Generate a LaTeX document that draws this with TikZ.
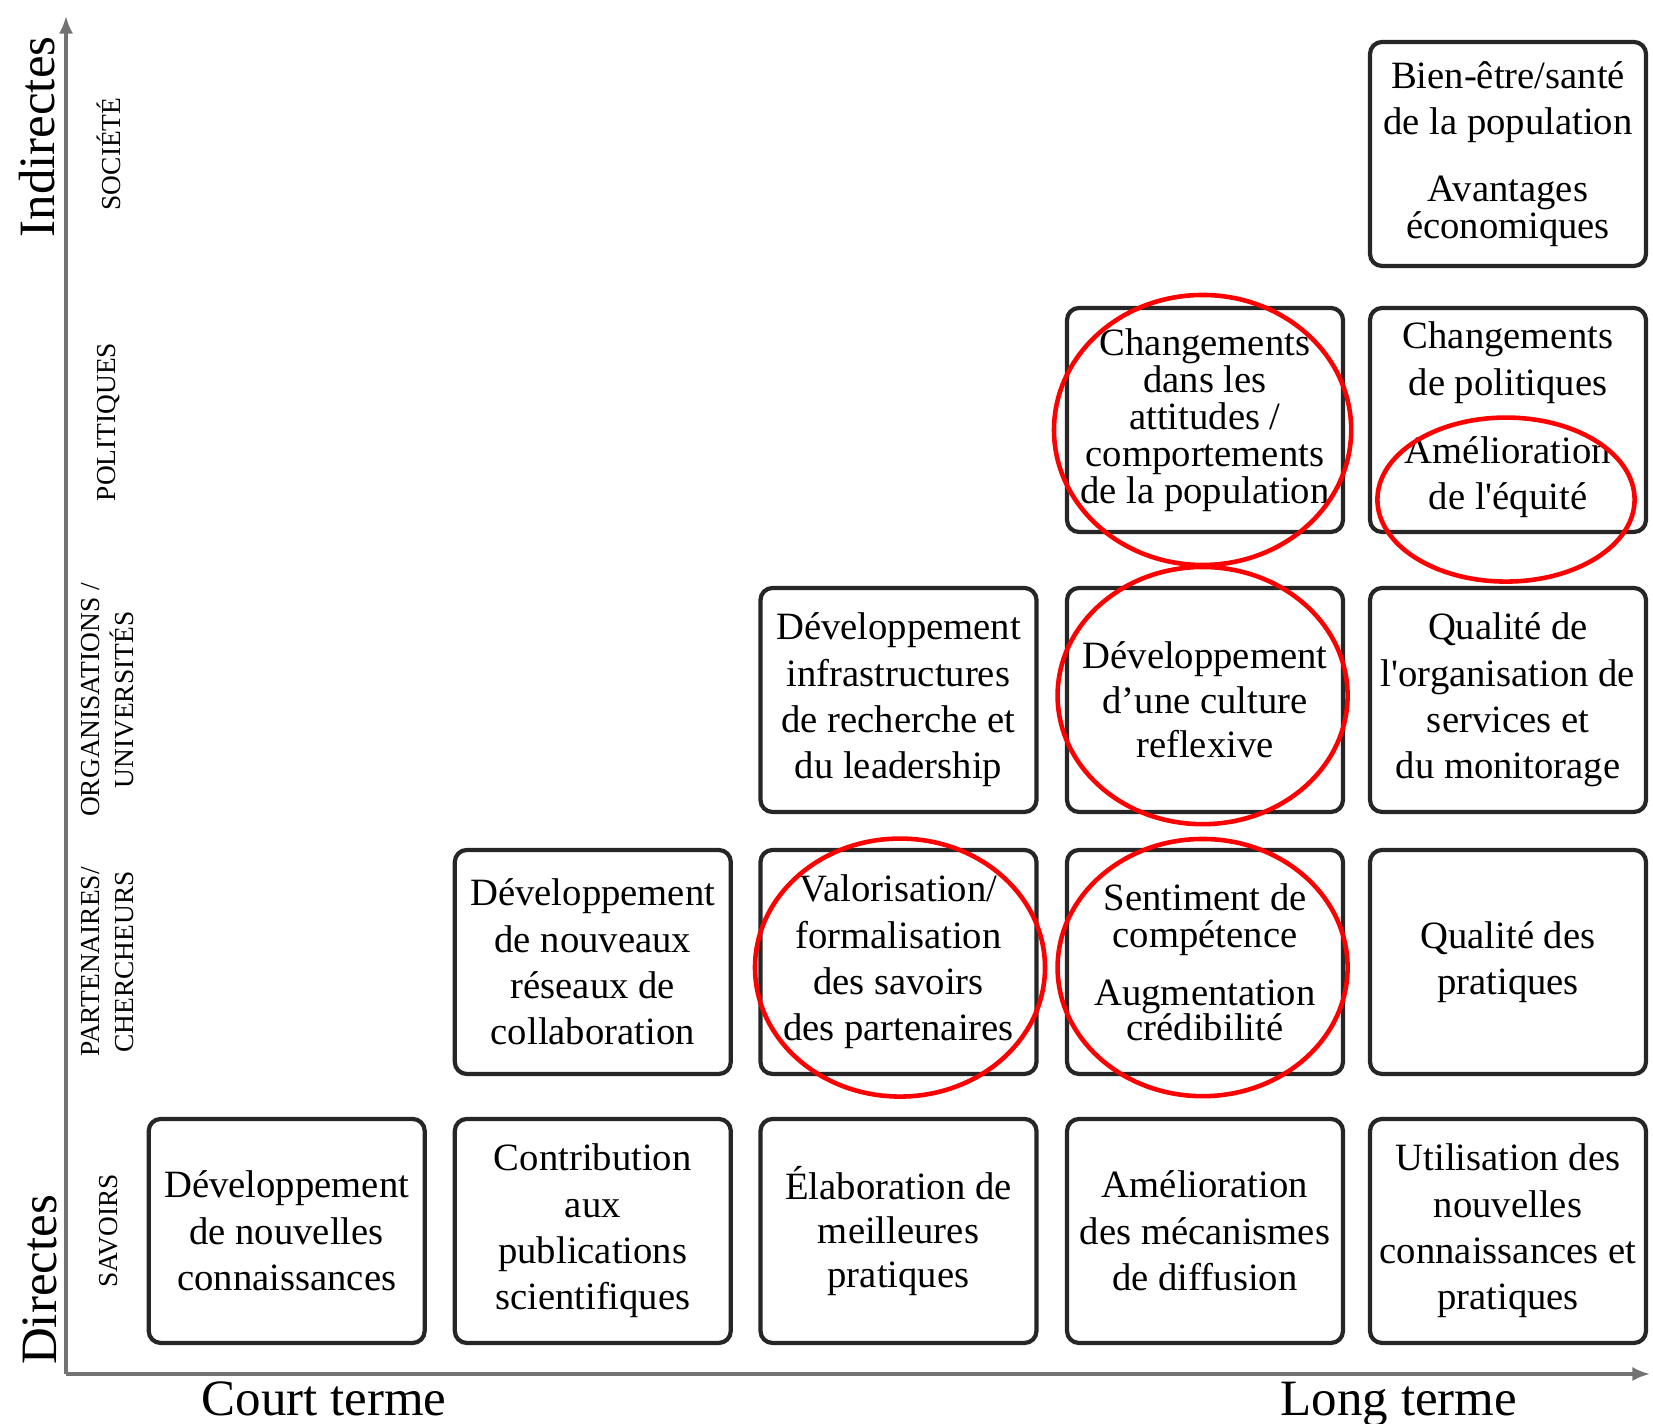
\documentclass[tikz,border=0pt]{standalone}
\usepackage{fontspec}
\setmainfont[Ligatures=TeXOff]{Liberation Serif}
\usetikzlibrary{arrows.meta}

\begin{document}
\begin{tikzpicture}[
  box/.style={draw=black!85, line width=1.2pt, rounded corners=1.2mm, minimum width=2.76cm, minimum height=2.24cm, align=center, inner sep=0pt, font=\fontsize{11}{13.2}\selectfont},
  axe/.style={draw=black!55, line width=0.9pt, -{Latex[length=5pt,width=4pt]}},
  niveau/.style={rotate=90, align=center, font=\fontsize{7.8}{9.6}\selectfont},
  terme/.style={font=\fontsize{14.5}{16}\selectfont},
  cercle/.style={draw=red, line width=1.3pt}
]
\useasboundingbox (0,0) rectangle (16.53,14.24);
%axes
\coordinate (O) at (0.66,0.50);
\coordinate (Y) at (0.66,14.08);
\coordinate (X) at (16.50,0.50);
\draw[axe] (O) -- (Y);
\draw[axe] (O) -- (X);
\node[terme, rotate=90] (indirectes) at (0.37,12.87) {Indirectes};
\node[terme, rotate=90] (directes) at (0.40,1.44) {Directes};
\node[terme, anchor=base] (court) at (3.24,0.08) {Court terme};
\node[terme, anchor=base] (long) at (13.99,0.08) {Long terme};
%levels
\node[niveau] (societe) at (1.086,12.70) {SOCIÉTÉ};
\node[niveau] (politiques) at (1.086,10.02) {POLITIQUES};
\node[niveau] (organisations) at (1.075,7.24) {ORGANISATIONS /\\UNIVERSITÉS};
\node[niveau] (partenaires) at (1.075,4.62) {PARTENAIRES/\\CHERCHEURS};
\node[niveau] (savoirs) at (1.086,1.93) {SAVOIRS};
%row 1 : savoirs
\node[box] (b11) at (2.867,1.93) {Développement\\de nouvelles\\connaissances};
\node[box] (b12) at (5.928,1.93) {Contribution\\aux\\publications\\scientifiques};
\node[box] (b13) at (8.985,1.93) {Élaboration de\\[-0.8pt]meilleures\\[-0.8pt]pratiques};
\node[box] (b14) at (12.05,1.93) {Amélioration\\des mécanismes\\de diffusion};
\node[box] (b15) at (15.08,1.93) {Utilisation des\\nouvelles\\connaissances et\\pratiques};
%row 2 : partenaires / chercheurs
\node[box] (b22) at (5.928,4.62) {Développement\\de nouveaux\\réseaux de\\collaboration};
\node[box] (b23) at (8.985,4.62) {Valorisation/\\formalisation\\des savoirs\\des partenaires};
\node[box] (b24) at (12.05,4.62) {Sentiment de\\[-2.7pt]compétence\\[3.3pt]Augmentation\\[-3.3pt]crédibilité};
\node[box] (b25) at (15.08,4.62) {Qualité des\\pratiques};
%row 3 : organisations / universites
\node[box] (b33) at (8.985,7.24) {Développement\\infrastructures\\de recherche et\\du leadership};
\node[box] (b34) at (12.05,7.24) {Développement\\[-0.6pt]d’une culture\\[-0.6pt]reflexive};
\node[box] (b35) at (15.08,7.24) {Qualité de\\l'organisation de\\services et\\du monitorage};
%row 4 : politiques
\node[box] (b44) at (12.05,10.04) {Changements\\[-2.7pt]dans les\\[-2.7pt]attitudes /\\[-2.7pt]comportements\\[-2.7pt]de la population};
\node[box] (b45) at (15.08,10.04) {Changements\\de politiques\\[6.3pt]Amélioration\\de l'équité};
%row 5 : societe
\node[box] (b55) at (15.08,12.70) {Bien-être/santé\\de la population\\[5.8pt]Avantages\\[-2.7pt]économiques};
%red ellipses
\draw[cercle] (12.026,9.94) ellipse [x radius=1.486, y radius=1.35];
\draw[cercle] (15.06,9.244) ellipse [x radius=1.286, y radius=0.82];
\draw[cercle] (12.026,7.284) ellipse [x radius=1.45, y radius=1.286];
\draw[cercle] (9.00,4.564) ellipse [x radius=1.45, y radius=1.29];
\draw[cercle] (12.026,4.564) ellipse [x radius=1.45, y radius=1.286];
\end{tikzpicture}
\end{document}
